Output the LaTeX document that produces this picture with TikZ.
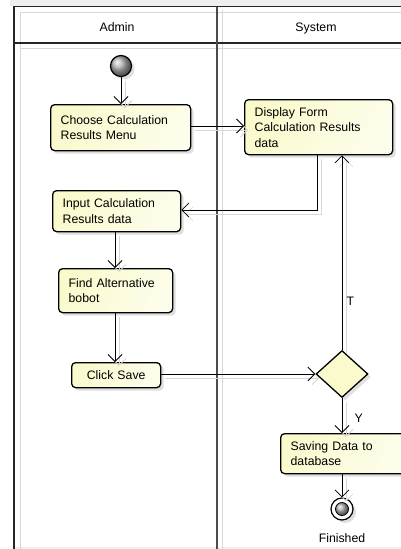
\documentclass[tikz,border=0pt]{standalone}
\usepackage{fontspec}
\setmainfont{Liberation Sans}
\usetikzlibrary{arrows.meta,shapes.geometric,shadows}
\definecolor{boxfill}{RGB}{250,250,205}
\definecolor{shade}{RGB}{215,215,215}
\definecolor{band}{RGB}{239,239,239}
\tikzset{
  act/.style={draw=black, line width=1.3pt, rounded corners=4pt, anchor=north west,
    left color=boxfill, right color=boxfill!40!white, shading angle=60,
    font=\fontsize{12.3}{15.5}\selectfont, align=left, inner xsep=10pt, inner ysep=0pt,
    drop shadow={shadow xshift=3pt, shadow yshift=-3pt, opacity=0.25, fill=gray}},
  flow/.style={draw=black, line width=0.8pt, -{Straight Barb[length=7pt,width=14pt,line width=0.8pt]},
    preaction={draw=shade, line width=0.8pt, transform canvas={shift={(4pt,-4pt)}}}},
  lane/.style={line width=1.2pt, draw=black!85},
  laneshade/.style={line width=0.8pt, draw=shade},
  lbl/.style={font=\fontsize{12.3}{14}\selectfont}
}
\begin{document}
\begin{tikzpicture}[x=1pt,y=-1pt]
\useasboundingbox (0,0) rectangle (401,549);
% background bands
\fill[band] (10,0) rectangle (401,5.5);
\fill[band] (14,546.5) rectangle (401,549);
% swimlane shadows
\draw[laneshade] (20,549) -- (20,12) -- (401,12);
\draw[laneshade] (20,48.5) -- (401,48.5);
\draw[laneshade] (222,10) -- (222,549);
% swimlane frame
\draw[lane] (14,549) -- (14,6.5) -- (401,6.5);
\draw[lane] (13,43) -- (401,43);
\draw[lane, draw=black!70, line width=1.6pt] (217,6.5) -- (217,549);
\node[lbl, anchor=base] (hadmin) at (117,31) {Admin};
\node[lbl, anchor=base] (hsys) at (316,31) {System};
% nodes
\node[circle, minimum size=21pt, inner sep=0pt, draw=black, line width=1.2pt, shading=ball, ball color=gray!60,
  drop shadow={shadow xshift=3pt, shadow yshift=-3pt, opacity=0.25, fill=gray}] (start) at (121,66) {};
\node[act, text width=120pt, minimum height=46pt] (choose) at (50,104) {Choose Calculation\\Results Menu};
\node[act, text width=128pt, minimum height=55pt] (display) at (244,99) {Display Form\\Calculation Results\\data};
\node[act, text width=108pt, minimum height=41pt] (input) at (52,190) {Input Calculation\\Results data};
\node[act, text width=94pt, minimum height=44pt] (find) at (58,268) {Find Alternative\\bobot};
\node[act, text width=69pt, minimum height=25pt, align=center] (save) at (71,362) {Click Save};
\node[diamond, draw=black, line width=1.3pt, fill=boxfill, minimum width=52pt, minimum height=47pt, inner sep=0pt,
  drop shadow={shadow xshift=3pt, shadow yshift=-3pt, opacity=0.25, fill=gray}] (dec) at (342,374) {};
\node[act, text width=105pt, minimum height=40pt] (saving) at (280,433) {Saving Data to\\database};
\node[circle, minimum size=22pt, inner sep=0pt, draw=black, line width=1.2pt, fill=white,
  drop shadow={shadow xshift=3pt, shadow yshift=-3pt, opacity=0.25, fill=gray}] (final) at (342,509) {};
\node[circle, minimum size=13pt, inner sep=0pt, draw=black, line width=0.8pt, shading=ball, ball color=gray!60] (finalin) at (final.center) {};
\node[lbl, anchor=north] (fin) at (342,530) {Finished};
% edges
\draw[flow] (start) -- (choose.north -| start);
\draw[flow] (choose.east |- 0,126) -- (display.west |- 0,126);
\draw[flow] (display.south -| 317,0) |- (input.east |- 0,210);
\draw[flow] (input.south -| 115,0) -- (find.north -| 115,0);
\draw[flow] (find.south -| 115,0) -- (save.north -| 115,0);
\draw[flow] (save.east |- dec) -- (dec.west);
\draw[flow] (dec.north) -- node[lbl, right, pos=0.25, xshift=1pt] (tl) {T} (display.south -| dec);
\draw[flow] (dec.south) -- node[lbl, right, pos=0.5, xshift=9pt, yshift=-3pt] (yl) {Y} (saving.north -| dec);
\draw[flow] (saving.south -| dec) -- (final.north);
\end{tikzpicture}
\end{document}
